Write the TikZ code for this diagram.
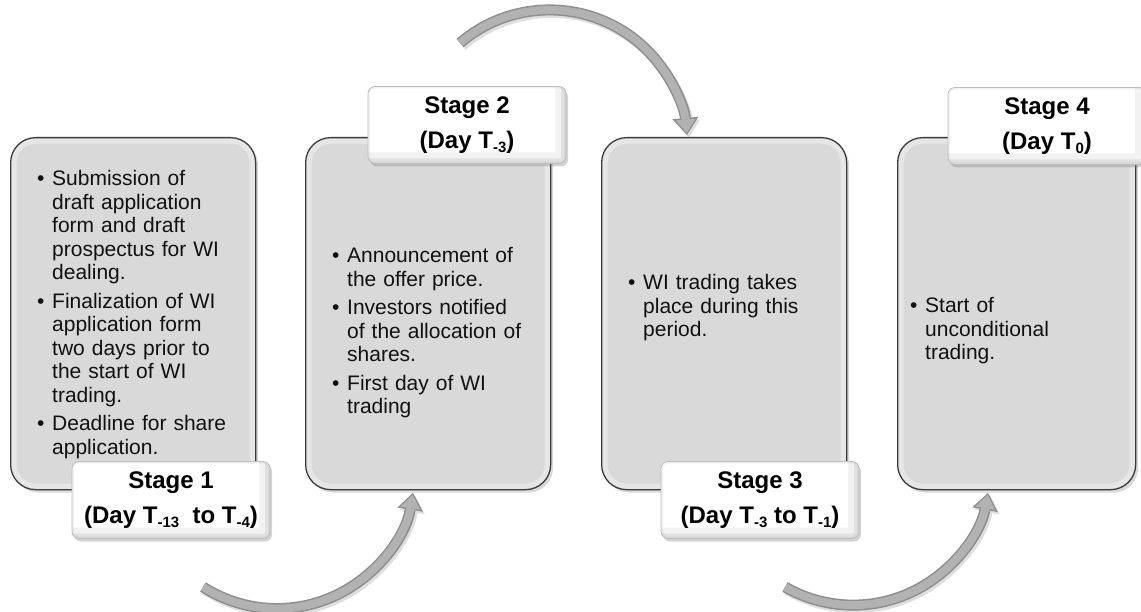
\documentclass[tikz,border=0pt]{standalone}
\usepackage{fontspec}
\setmainfont{Liberation Sans}
\usetikzlibrary{arrows.meta,shadows}
\definecolor{boxfill}{HTML}{D9D9D9}
\definecolor{boxline}{HTML}{3A3A3A}
\definecolor{arrowfill}{HTML}{B2B2B2}
\definecolor{arrowline}{HTML}{8E8E8E}
\definecolor{labelline}{HTML}{BDBDBD}
\definecolor{bodyink}{HTML}{111111}
\newcommand{\bul}{\par\noindent\llap{\makebox[15pt][l]{•}}\rule{0pt}{16pt}}
\newcommand{\isep}{\par\vspace{5pt}}
\newcommand{\sbs}[1]{\raisebox{-0.35ex}{\fontsize{15}{15}\selectfont #1}}
\newcommand{\flowarc}[4]{%
  \draw[flowshadow] (#1) arc[start angle=#2, end angle=#3, radius=#4];
  \draw[flowouter] (#1) arc[start angle=#2, end angle=#3, radius=#4];
  \draw[flowinner] (#1) arc[start angle=#2, end angle=#3, radius=#4];}
\tikzset{
  stagebox/.style={draw=boxline, line width=1.3pt, fill=boxfill, rounded corners=25pt,
    minimum width=245pt, minimum height=352pt, anchor=north west, inner sep=0pt,
    drop shadow={shadow xshift=2.5pt, shadow yshift=-3pt, opacity=.3, fill=gray},
    path picture={\draw[white, opacity=.35, line width=12pt, rounded corners=25pt]
      (path picture bounding box.south west) rectangle (path picture bounding box.north east);}},
  labelbox/.style={draw=labelline, line width=0.8pt, fill=white, rounded corners=7pt,
    minimum width=198pt, minimum height=77pt, inner sep=0pt, align=center,
    font=\fontsize{24}{35}\selectfont\bfseries, text=black,
    drop shadow={shadow xshift=2pt, shadow yshift=-3pt, opacity=.35, fill=gray},
    path picture={
      \draw[gray, opacity=.10, line width=22pt, rounded corners=7pt]
        ([xshift=-12pt]path picture bounding box.south west) rectangle ([yshift=12pt]path picture bounding box.north east);
      \draw[gray, opacity=.14, line width=10pt, rounded corners=7pt]
        ([xshift=-12pt]path picture bounding box.south west) rectangle ([yshift=12pt]path picture bounding box.north east);
      \draw[gray, opacity=.10, line width=4pt, rounded corners=7pt]
        (path picture bounding box.south west) rectangle (path picture bounding box.north east);}},
  bodytext/.style={anchor=north west, inner sep=0pt, text width=215pt,
    font=\fontsize{21}{23.5}\selectfont, text=bodyink},
  flowouter/.style={line width=11pt, draw=arrowline,
    -{Triangle[width=26pt,length=17pt,line width=0pt]}},
  flowinner/.style={line width=8pt, draw=arrowfill, shorten >=2pt,
    -{Triangle[width=20pt,length=13.5pt,line width=0pt]}},
  flowshadow/.style={line width=11pt, draw=black, opacity=.13,
    -{Triangle[width=26pt,length=17pt,line width=0pt]},
    transform canvas={shift={(2pt,-2.5pt)}}}
}
\begin{document}
\begin{tikzpicture}[x=1pt,y=-1pt]
\useasboundingbox (0,0) rectangle (1141,612);

% stage boxes
\node[stagebox] (b1) at (10,137) {};
\node[stagebox] (b2) at (305,137) {};
\node[stagebox] (b3) at (601,137) {};
\node[stagebox, minimum width=238pt] (b4) at (897,137) {};

% body texts
\node[bodytext] (t1) at (37,162) {\raggedright\leftskip=15pt
  \bul Submission of\\draft application\\form and draft\\prospectus for WI\\dealing.\isep
  \bul Finalization of WI\\application form\\two days prior to\\the start of WI\\trading.\isep
  \bul Deadline for share\\application.\par};
\node[bodytext] (t2) at (332,239) {\raggedright\leftskip=15pt
  \bul Announcement of\\the offer price.\isep
  \bul Investors notified\\of the allocation of\\shares.\isep
  \bul First day of WI\\trading\par};
\node[bodytext] (t3) at (628,266) {\raggedright\leftskip=15pt
  \bul WI trading takes\\place during this\\period.\par};
\node[bodytext] (t4) at (910,289) {\raggedright\leftskip=15pt
  \bul Start of\\unconditional\\trading.\par};

% stage labels
\node[labelbox] (l1) at (171,500) {Stage 1\\(Day T\sbs{-13}~ to T\sbs{-4})};
\node[labelbox] (l2) at (467,125) {Stage 2\\(Day T\sbs{-3})};
\node[labelbox] (l3) at (760,500) {Stage 3\\(Day T\sbs{-3} to T\sbs{-1})};
\node[labelbox] (l4) at (1047,126) {Stage 4\\(Day T\sbs{0})};

% curved arrows
\coordinate (a1s) at (203,587);
\coordinate (a2s) at (460,43);
\coordinate (a3s) at (785,587);
\flowarc{a1s}{122.5}{9.2}{137.7}
\flowarc{a2s}{-130.5}{-5.4}{138}
\flowarc{a3s}{119.8}{10.5}{137.2}
\end{tikzpicture}
\end{document}
